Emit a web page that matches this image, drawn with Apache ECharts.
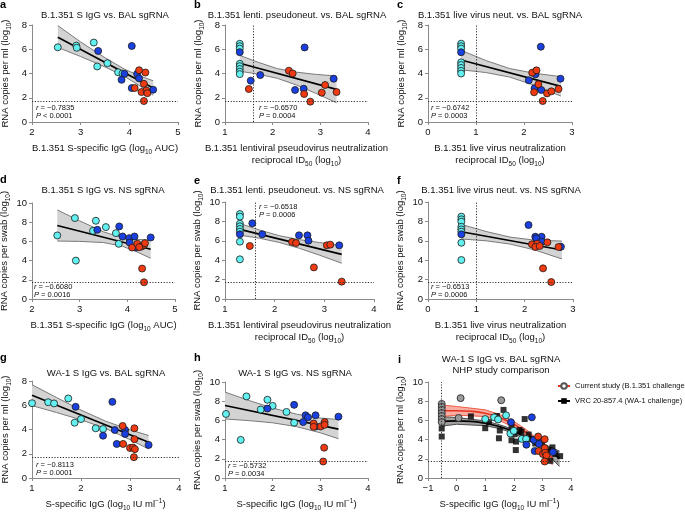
<!DOCTYPE html>
<html><head><meta charset="utf-8">
<script src="https://cdn.jsdelivr.net/npm/echarts@6/dist/echarts.min.js"></script>
<style>html,body{margin:0;padding:0;background:#fff}#c{width:685px;height:512px}</style>
</head><body><div id="c"></div>
<script>
// ---------- data ----------
const aCyan = [[2.53,6.16],[2.91,6.30],[2.92,6.12],[3.27,6.55],[3.34,4.58],[3.55,4.85],[3.77,4.10],[3.86,4.0]];
const aBlue = [[3.36,5.86],[4.05,6.27],[3.90,3.97],[3.84,3.48],[4.16,3.97],[4.20,3.60],[4.05,2.80],[4.49,2.66]];
const aRed  = [[4.20,4.27],[4.33,4.08],[4.30,3.15],[4.11,2.80],[4.25,2.47],[4.35,2.60],[4.37,2.38],[4.30,1.73]];
const aLine = [[2.53,6.99],[4.49,2.80]];
const aBand = [[2.53,6.15,7.95],[3.0,5.4,6.6],[3.5,4.54,5.3],[3.9,3.76,4.36],[4.2,3.02,3.82],[4.49,2.2,3.4]];

const bCyan = [[1.31,6.45],[1.31,6.25],[1.31,6.05],[1.31,4.8],[1.31,4.6],[1.31,4.37],[1.31,4.15],[1.31,3.95]];
const bBlue = [[1.31,5.76],[1.54,3.41],[1.74,3.87],[2.67,6.15],[2.47,2.64],[2.65,2.75],[3.28,3.57]];
const bRed  = [[1.50,2.72],[2.34,4.23],[2.42,4.01],[2.66,2.31],[2.79,1.68],[3.03,2.42],[3.10,3.05],[3.34,2.47]];
const bLine = [[1.31,4.84],[3.34,2.69]];
const bBand = [[1.31,4.19,5.49],[1.7,3.94,4.92],[2.1,3.6,4.4],[2.5,3.05,4.11],[2.9,2.37,3.93],[3.34,1.59,3.79]];

const cCyan = [[0.69,6.46],[0.69,6.25],[0.69,6.05],[0.69,4.92],[0.69,4.70],[0.69,4.46],[0.69,4.22],[0.69,4.0]];
const cBlue = [[0.69,5.75],[2.35,6.21],[2.24,3.93],[2.10,3.44],[2.22,2.78],[2.36,2.64],[2.76,3.57]];
const cRed  = [[2.17,4.07],[2.26,4.26],[2.30,3.11],[2.21,2.45],[2.48,2.36],[2.57,2.53],[2.72,2.72],[2.39,1.73]];
const cLine = [[0.69,5.11],[2.77,2.94]];
const cBand = [[0.69,4.31,5.91],[1.2,4.08,5.08],[1.7,3.71,4.41],[2.2,3.05,4.03],[2.77,2.14,3.74]];

const dCyan = [[2.53,6.62],[2.90,8.43],[2.92,4.0],[3.28,7.1],[3.34,8.15],[3.55,7.49],[3.76,6.86],[3.82,5.75]];
const dBlue = [[3.37,7.21],[3.83,7.56],[3.90,6.51],[4.04,6.34],[4.15,6.51],[4.05,5.88],[4.19,5.36],[4.49,6.41]];
const dRed  = [[4.10,5.36],[4.21,5.75],[4.30,5.47],[4.35,5.64],[4.37,5.82],[4.25,5.40],[4.31,3.17],[4.35,1.74]];
const dLine = [[2.53,7.66],[4.49,5.19]];
const dBand = [[2.53,6.04,9.28],[3.0,6.0,8.14],[3.5,5.88,7.0],[3.9,5.49,6.37],[4.2,4.91,6.21],[4.49,4.24,6.14]];

const eCyan = [[1.30,8.76],[1.30,8.49],[1.30,7.76],[1.30,7.49],[1.30,7.22],[1.30,6.94],[1.30,5.91],[1.30,4.09]];
const eBlue = [[1.30,6.67],[1.55,7.80],[1.75,6.67],[2.49,6.56],[2.66,6.56],[2.68,6.01],[3.30,5.53]];
const eRed  = [[1.50,5.46],[2.35,5.88],[2.43,5.77],[2.79,3.26],[3.05,5.53],[3.12,5.60],[3.35,1.79]];
const eLine = [[1.30,7.18],[3.35,4.60]];
const eBand = [[1.3,6.58,7.78],[1.7,6.26,7.10],[2.1,5.82,6.52],[2.5,5.22,6.12],[2.9,4.52,5.82],[3.35,3.69,5.51]];

const fCyan = [[0.69,8.49],[0.69,8.21],[0.69,7.97],[0.69,7.45],[0.69,7.18],[0.69,6.94],[0.69,5.80],[0.69,4.02]];
const fBlue = [[0.69,6.67],[2.08,7.63],[2.22,6.42],[2.35,6.42],[2.24,6.25],[2.35,5.91],[2.75,5.39]];
const fRed  = [[2.15,5.64],[2.26,5.70],[2.22,5.36],[2.31,5.46],[2.47,5.84],[2.70,5.36],[2.38,3.16],[2.55,1.75]];
const fLine = [[0.69,6.94],[2.77,5.05]];
const fBand = [[0.69,6.19,7.69],[1.2,6.0,6.96],[1.7,5.66,6.38],[2.2,5.07,6.07],[2.77,4.13,5.97]];

const gCyan = [[1.0,6.17],[1.33,6.25],[1.45,6.15],[1.74,6.56],[1.87,4.56],[2.0,4.86],[2.30,4.10],[2.45,4.04]];
const gBlue = [[1.89,5.87],[2.64,6.28],[2.45,3.49],[2.69,3.96],[2.90,3.96],[2.90,3.63],[2.73,2.81],[3.38,2.73]];
const gRed  = [[2.85,4.29],[3.09,4.10],[3.09,3.20],[2.86,2.81],[3.0,2.48],[3.06,2.51],[3.10,2.38],[3.08,1.72]];
const gLine = [[1.0,6.83],[3.38,2.95]];
const gBand = [[1.0,5.97,7.69],[1.5,5.4,6.64],[2.0,4.8,5.6],[2.5,4.09,4.69],[3.0,3.17,3.97],[3.38,2.39,3.51]];

const hCyan = [[1.02,6.67],[1.45,8.50],[1.89,8.15],[1.75,7.13],[2.0,7.51],[2.29,6.88],[2.45,5.76],[1.33,3.97]];
const hBlue = [[1.89,7.23],[2.45,7.62],[2.69,6.53],[2.74,6.32],[2.90,6.53],[2.64,5.83],[2.90,5.37],[3.38,6.39]];
const hRed  = [[2.86,5.68],[3.01,5.37],[3.09,5.83],[3.09,5.54],[2.86,5.33],[3.08,3.16],[3.06,1.72]];
const hLine = [[1.0,7.55],[3.38,5.09]];
const hBand = [[1.0,6.15,8.95],[1.5,5.98,8.08],[2.0,5.75,7.29],[2.5,5.35,6.65],[3.0,4.71,6.25],[3.38,4.09,6.09]];

const iGray = [[-0.52,7.72],[-0.52,7.40],[-0.52,7.09],[-0.52,6.77],[-0.52,6.46],[-0.52,6.14],[-0.52,5.82],[0.14,8.32],[0.07,6.25],[1.56,8.10]];
const iCyan = [[1.0,6.14],[1.31,6.32],[1.45,6.10],[1.73,6.53],[1.88,4.63],[2.0,4.91],[2.28,4.07],[2.43,4.07]];
const iBlue = [[1.90,5.82],[2.63,6.32],[2.44,3.47],[2.70,3.96],[2.91,3.90],[2.88,3.54],[2.73,2.81],[3.37,2.70]];
const iRed  = [[2.85,4.32],[3.08,4.04],[3.08,3.12],[2.87,2.81],[3.02,2.49],[3.10,2.63],[3.14,2.35],[3.08,1.72]];
const iVrc  = [[-0.52,5.16],[-0.52,4.32],[0.5,6.42],[1.0,5.19],[1.13,5.82],[1.41,6.46],[1.51,4.95],[1.48,4.14],[1.64,7.09],[1.92,5.37],[1.92,3.93],[2.03,4.56],[2.08,3.79],[2.07,2.91],[2.27,4.84],[2.38,6.14],[2.52,4.53],[2.59,4.07],[2.99,3.75],[3.35,3.19],[3.28,1.79],[3.62,2.28],[2.2,5.0],[2.75,3.6],[3.2,2.9],[3.45,2.5]];
const iRedLine = [[-0.52,7.0],[0,7.0],[0.5,6.95],[1,6.75],[1.5,6.3],[2,5.6],[2.5,4.6],[3,3.2],[3.35,2.05]];
const iRedBand = [[-0.52,6.4,7.6],[0,6.55,7.45],[1,6.4,7.1],[1.5,5.98,6.62],[2,5.3,5.9],[2.5,4.3,4.9],[3,2.85,3.6],[3.35,1.35,2.6]];
const iBlkLine = [[-0.52,5.9],[0,5.95],[0.5,5.9],[1,5.7],[1.5,5.35],[2,4.85],[2.5,4.15],[3,3.3],[3.6,2.05]];
const iBlkBand = [[-0.52,5.4,6.4],[0,5.6,6.3],[1,5.45,5.95],[1.5,5.15,5.55],[2,4.65,5.05],[2.5,3.95,4.35],[3,3.0,3.6],[3.6,1.2,2.8]];

const LOD = 1.7;
const vertLines = {b:1.6, c:1.0, e:1.6, f:1.0, i:-0.52};
const stats = [['\u22120.7835','< 0.0001'],['\u22120.6570','= 0.0004'],['\u22120.6742','= 0.0003'],
               ['\u22120.6080','= 0.0016'],['\u22120.6518','= 0.0006'],['\u22120.6513','= 0.0006'],
               ['\u22120.8113','= 0.0001'],['\u22120.5732','= 0.0034']];
const titles = ['B.1.351 S IgG vs. BAL sgRNA','B.1.351 lenti. pseudoneut. vs. BAL sgRNA','B.1.351 live virus neut. vs. BAL sgRNA',
                'B.1.351 S IgG vs. NS sgRNA','B.1.351 lenti. pseudoneut. vs. NS sgRNA','B.1.351 live virus neut. vs. NS sgRNA',
                'WA-1 S IgG vs. BAL sgRNA','WA-1 S IgG vs. NS sgRNA','WA-1 S IgG vs. BAL sgRNA\nNHP study comparison'];
const xNames = ['B.1.351 S-specific IgG (log{sub|10} AUC)',
  'B.1.351 lentiviral pseudovirus neutralization\nreciprocal ID{sub|50} (log{sub|10})',
  'B.1.351 live virus neutralization\nreciprocal ID{sub|50} (log{sub|10})'];
const xNameIU = 'S-specific IgG (log{sub|10} IU ml{sup|\u22121})';
const yNameMl = 'RNA copies per ml (log{sub|10})';
const yNameSwab = 'RNA copies per swab (log{sub|10})';
const legendNames = ['Current study (B.1.351 challenge)','VRC 20-857.4 (WA-1 challenge)'];

// ---------- layout ----------
const FONT = '"Liberation Sans", Arial, Helvetica, sans-serif';
const C_CYAN='#62f0f0', C_BLUE='#1a40e0', C_RED='#f03a12', C_GRAY='#9a9a9a';
const grids = [
  {left:32, top:25, width:146, height:97},
  {left:225,top:25, width:143, height:97},
  {left:428,top:25, width:144, height:97},
  {left:32, top:203,width:143, height:96},
  {left:225,top:202,width:149, height:97},
  {left:428,top:202,width:145, height:97},
  {left:32, top:381,width:147, height:97},
  {left:225,top:382,width:143, height:96},
  {left:428,top:382,width:143, height:96}
];
const xr = [[2,5],[1,4],[0,3],[2,5],[1,4],[0,3],[1,4],[1,4],[-1,4]];
const yr = [8,8,8,10,10,10,8,10,10];
const xn = [xNames[0],xNames[1],xNames[2],xNames[0],xNames[1],xNames[2],xNameIU,xNameIU,xNameIU];
const yn = [yNameMl,yNameMl,yNameMl,yNameSwab,yNameSwab,yNameSwab,yNameMl,yNameSwab,yNameMl];

const richName = {
  sub:{fontSize:6.5, verticalAlign:'bottom', fontFamily:FONT, color:'#111', lineHeight:12, padding:[0,0,-2,0]},
  sup:{fontSize:6.5, verticalAlign:'top', fontFamily:FONT, color:'#111', lineHeight:12}
};
const axisColor = '#8a8a8a';
const fmt = v => v < 0 ? '\u2212' + Math.abs(v) : String(v);

const xAxes = xr.map((r,i)=>({
  type:'value', gridIndex:i, min:r[0], max:r[1], interval:1,
  name:xn[i], nameLocation:'middle', nameGap:20, nameMoveOverlap:false,
  nameTextStyle:{fontSize:9.5, color:'#111', fontFamily:FONT, lineHeight:12, rich:richName},
  axisLine:{show:true, onZero:false, lineStyle:{color:axisColor, width:1}},
  axisTick:{show:true, length:3, lineStyle:{color:axisColor}},
  axisLabel:{fontSize:9.5, color:'#111', fontFamily:FONT, margin:5, formatter:fmt},
  splitLine:{show:false}
}));
const yAxes = yr.map((m,i)=>({
  type:'value', gridIndex:i, min:0, max:m, interval:2,
  name:yn[i], nameLocation:'middle', nameGap: m===10?22:21, nameMoveOverlap:false,
  nameTextStyle:{fontSize:9.5, color:'#111', fontFamily:FONT, lineHeight:12, rich:richName},
  axisLine:{show:true, onZero:false, lineStyle:{color:axisColor, width:1}},
  axisTick:{show:true, length:3, lineStyle:{color:axisColor}},
  axisLabel:{fontSize:9.5, color:'#111', fontFamily:FONT, margin:5},
  splitLine:{show:false}
}));

function bandSeries(idx, band, fill, edge){
  return {
    type:'custom', xAxisIndex:idx, yAxisIndex:idx, silent:true, z:1,
    data: band, encode:{x:0, y:[1,2]}, clip:true,
    renderItem:function(params, api){
      if (params.dataIndex !== 0) return null;
      const lo = band.map(p=>api.coord([p[0],p[1]]));
      const hi = band.map(p=>api.coord([p[0],p[2]]));
      return {type:'group', children:[
        {type:'polygon', shape:{points:lo.concat(hi.slice().reverse())}, style:{fill:fill, stroke:'none'}},
        {type:'polyline', shape:{points:lo}, style:{stroke:edge, lineWidth:1, fill:'none'}},
        {type:'polyline', shape:{points:hi}, style:{stroke:edge, lineWidth:1, fill:'none'}}
      ]};
    }
  };
}
function lineSeries(idx, data, vert, opts){
  const ml = [{yAxis:LOD}];
  if (vert !== undefined) ml.push({xAxis:vert});
  return Object.assign({
    type:'line', xAxisIndex:idx, yAxisIndex:idx, data:data, symbol:'none', z:3, silent:true,
    lineStyle:{color:'#000', width:1.6},
    markLine:{silent:true, symbol:['none','none'], label:{show:false},
      lineStyle:{type:[1.2,1.6], color:'#333', width:1}, data:ml, animation:false}
  }, opts||{});
}
function scat(idx, data, color, opts){
  return Object.assign({type:'scatter', xAxisIndex:idx, yAxisIndex:idx, data:data, symbol:'circle', symbolSize:7,
    itemStyle:{color:color, borderColor:'#1a1a1a', borderWidth:0.8, opacity:1}, z:4, silent:true}, opts||{});
}

const panels = [
  [aCyan,aBlue,aRed,aLine,aBand,undefined],
  [bCyan,bBlue,bRed,bLine,bBand,vertLines.b],
  [cCyan,cBlue,cRed,cLine,cBand,vertLines.c],
  [dCyan,dBlue,dRed,dLine,dBand,undefined],
  [eCyan,eBlue,eRed,eLine,eBand,vertLines.e],
  [fCyan,fBlue,fRed,fLine,fBand,vertLines.f],
  [gCyan,gBlue,gRed,gLine,gBand,undefined],
  [hCyan,hBlue,hRed,hLine,hBand,undefined]
];
const series = [];
panels.forEach((p,i)=>{
  series.push(bandSeries(i, p[4], '#d3d3d3', '#7a7a7a'));
  series.push(lineSeries(i, p[3], p[5]));
  series.push(scat(i, p[0], C_CYAN));
  series.push(scat(i, p[1], C_BLUE));
  series.push(scat(i, p[2], C_RED));
});
// panel i
series.push(bandSeries(8, iBlkBand, '#a2a2a2', '#4a4a4a'));
series.push(bandSeries(8, iRedBand, 'rgba(246,160,148,0.85)', '#ee5a44'));
series.push(lineSeries(8, iBlkLine, vertLines.i, {name:legendNames[1], symbol:'rect', showSymbol:false, smooth:true,
  itemStyle:{color:'#000'}, lineStyle:{color:'#000', width:1.6}}));
series.push(Object.assign(lineSeries(8, iRedLine, undefined, {name:legendNames[0], symbol:'circle', showSymbol:false, smooth:true,
  itemStyle:{color:'#fff', borderColor:'#555', borderWidth:1}, lineStyle:{color:'#e8321e', width:1.6}}), {markLine:undefined}));
series.push(scat(8, iVrc, '#000', {symbol:'rect', symbolSize:6, itemStyle:{color:'#000', borderWidth:0}}));
series.push(scat(8, iGray, C_GRAY));
series.push(scat(8, iCyan, C_CYAN));
series.push(scat(8, iBlue, C_BLUE));
series.push(scat(8, iRed, C_RED));

// ---------- texts ----------
const graphic = [];
const titlePos = [[105,15],[297,15],[500,15],[103,190],[297,190],[501,190],[106,373],[295,373],[501,365]];
titles.forEach((t,i)=>{
  graphic.push({type:'text', x:titlePos[i][0], y:titlePos[i][1], silent:true,
    style:{text:t, fontSize:9.5, fontFamily:FONT, fill:'#111', align:'center', verticalAlign:'middle', lineHeight:11}});
});
const labPos = [['a',0,5],['b',194,5],['c',397,5],['d',0,180],['e',194,181],['f',397,181],['g',0,358],['h',194,358],['i',398,360]];
labPos.forEach(l=>{
  graphic.push({type:'text', x:l[1], y:l[2], silent:true,
    style:{text:l[0], fontSize:11, fontWeight:'bold', fontFamily:FONT, fill:'#000', align:'left', verticalAlign:'middle'}});
});
const statPos = [[36,108],[259,108],[431,108],[34,287],[259,207],[431,287],[36,465],[228,466]];
const richI = {i:{fontStyle:'italic', fontSize:7.5, fontFamily:FONT, fill:'#111'}, n:{fontSize:7.5, fontFamily:FONT, fill:'#111'}};
stats.forEach((s,i)=>{
  graphic.push({type:'text', x:statPos[i][0], y:statPos[i][1], silent:true,
    style:{text:'{i|r}{n| = '+s[0]+'}', rich:richI, fontSize:7.5, fontFamily:FONT, fill:'#111', align:'left', verticalAlign:'middle'}});
  graphic.push({type:'text', x:statPos[i][0], y:statPos[i][1]+7.5, silent:true,
    style:{text:'{i|P}{n| '+s[1]+'}', rich:richI, fontSize:7.5, fontFamily:FONT, fill:'#111', align:'left', verticalAlign:'middle'}});
});

const chart = echarts.init(document.getElementById('c'), null, {renderer:'canvas'});
chart.setOption({
  animation:false,
  backgroundColor:'#fff',
  textStyle:{fontFamily:FONT},
  grid: grids.map(g=>Object.assign({outerBoundsMode:'none', containLabel:false}, g)),
  xAxis:xAxes, yAxis:yAxes,
  legend:{data:legendNames, left:557, top:382, orient:'vertical', itemWidth:12, itemHeight:7, itemGap:7,
    selectedMode:false, textStyle:{fontSize:7.5, color:'#111', fontFamily:FONT}, padding:0},
  series:series,
  graphic:graphic
});
</script></body></html>
